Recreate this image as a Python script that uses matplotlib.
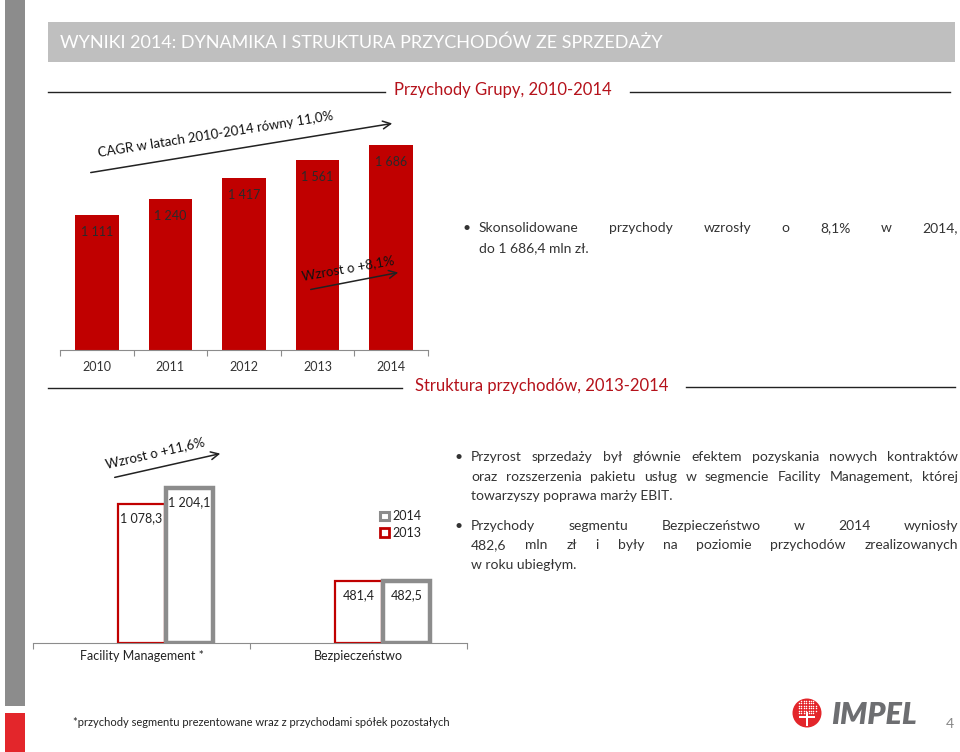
import matplotlib
matplotlib.use("Agg")
import numpy as np
import matplotlib.pyplot as plt
from matplotlib.patches import Rectangle, Circle, Patch

plt.rcParams["font.family"] = ["Lato", "DejaVu Sans"]

# data
years = ["2010", "2011", "2012", "2013", "2014"]
revenue = [1111, 1240, 1417, 1561, 1686]

segments = ["Facility Management *", "Bezpieczeństwo"]
seg_2013 = [1078.3, 481.4]
seg_2014 = [1204.1, 482.5]

bullets_top = [
    ("Skonsolidowane przychody wzrosły o 8,1% w 2014,", True),
    ("do 1 686,4 mln zł.", False),
]
bullets_bottom = [
    ("Przyrost sprzedaży był głównie efektem pozyskania nowych kontraktów", True),
    ("oraz rozszerzenia pakietu usług w segmencie Facility Management, której", True),
    ("towarzyszy poprawa marży EBIT.", False),
    ("Przychody segmentu Bezpieczeństwo w 2014 wyniosły", True),
    ("482,6 mln zł i były na poziomie przychodów zrealizowanych", True),
    ("w roku ubiegłym.", False),
]

RED = "#C00000"
DRED = "#B5121B"
GRAY = "#8C8C8C"
TXT = "#333333"

W, H = 960, 752
fig = plt.figure(figsize=(W / 100, H / 100), dpi=100)


def px_axes(x0, y0, x1, y1):
    return fig.add_axes([x0 / W, 1 - y1 / H, (x1 - x0) / W, (y1 - y0) / H])


def fmt_int(v):
    return f"{v:,}".replace(",", " ")


def fmt_dec(v):
    return f"{v:,.1f}".replace(",", " ").replace(".", ",")


def style_axis(ax, n):
    for s in ["top", "left", "right"]:
        ax.spines[s].set_visible(False)
    ax.spines["bottom"].set_color(GRAY)
    ax.set_yticks([])
    ax.set_xticks(np.arange(-0.5, n, 1))
    ax.set_xticklabels([])
    ax.tick_params(axis="x", which="major", length=4, color=GRAY)
    ax.patch.set_visible(False)
    ax.set_xlim(-0.5, n - 0.5)


# revenue chart 2010-2014
ax1 = px_axes(60, 100, 428, 350)
x = np.arange(len(years))
ax1.bar(x, revenue, width=0.59, color=RED)
style_axis(ax1, len(years))
ax1.set_ylim(0, 2056)
ax1.set_xticks(x, minor=True)
ax1.set_xticklabels(years, minor=True, fontsize=9, color=TXT)
ax1.tick_params(axis="x", which="minor", length=0, pad=8)
for i, v in enumerate(revenue):
    ax1.annotate(fmt_int(v), (i, v), xytext=(0, -8), textcoords="offset points",
                 ha="center", va="top", fontsize=9, color="#2a2a2a")

# segment chart 2013-2014
ax2 = px_axes(33, 440, 467, 643)
xs = np.arange(len(segments))
bw = 0.215
ax2.bar(xs, seg_2013, width=bw, facecolor="white", edgecolor=RED, lw=1.6)
ax2.bar(xs + 0.222, seg_2014, width=bw, facecolor="white", edgecolor=GRAY, lw=3.2)
style_axis(ax2, len(segments))
ax2.set_ylim(0, 1576)
ax2.set_xticks(xs, minor=True)
ax2.set_xticklabels(segments, minor=True, fontsize=9, color="#222222")
ax2.tick_params(axis="x", which="minor", length=0, pad=5)
for i in range(len(segments)):
    ax2.annotate(fmt_dec(seg_2013[i]), (xs[i], seg_2013[i]), xytext=(0, -6),
                 textcoords="offset points", ha="center", va="top", fontsize=9, color="#222222")
    ax2.annotate(fmt_dec(seg_2014[i]), (xs[i] + 0.222, seg_2014[i]), xytext=(0, -6),
                 textcoords="offset points", ha="center", va="top", fontsize=9, color="#222222")

handles = [Patch(facecolor="white", edgecolor=GRAY, lw=2.2),
           Patch(facecolor="white", edgecolor=RED, lw=2.0)]
fig.legend(handles, ["2014", "2013"], loc="upper left",
           bbox_to_anchor=(374 / W, 1 - 504 / H), frameon=False, fontsize=9,
           handlelength=0.7, handleheight=0.7, handletextpad=0.3, labelspacing=0.35,
           borderpad=0, labelcolor="#222222")

# overlay in pixel coordinates for slide decoration
lay = fig.add_axes([0, 0, 1, 1])
lay.set_xlim(0, W)
lay.set_ylim(H, 0)
lay.axis("off")
lay.set_zorder(10)

lay.add_patch(Rectangle((5, 0), 20, 706, color="#8C8C8C", lw=0))
lay.add_patch(Rectangle((5, 713), 20, 39, color="#E3262B", lw=0))
lay.add_patch(Rectangle((48, 22), 907, 40, color="#BFBFBF", lw=0))
lay.text(60, 43, "WYNIKI 2014: DYNAMIKA I STRUKTURA PRZYCHODÓW ZE SPRZEDAŻY",
         color="white", fontsize=13, va="center", ha="left")

# section headers
lay.text(503, 90, "Przychody Grupy, 2010-2014", color=DRED, fontsize=12, ha="center", va="center")
lay.plot([48, 385], [92, 92], color="#222222", lw=1)
lay.plot([630, 950], [92, 92], color="#222222", lw=1)
lay.text(542, 386, "Struktura przychodów, 2013-2014", color=DRED, fontsize=12, ha="center", va="center")
lay.plot([48, 402], [388, 388], color="#222222", lw=1)
lay.plot([686, 955], [387, 387], color="#222222", lw=1)

# arrows with growth notes
arr = dict(arrowstyle="->", color="#222222", lw=1.1, mutation_scale=14)
lay.annotate("", xy=(395, 123), xytext=(88, 173), arrowprops=arr)
lay.text(216, 134, "CAGR w latach 2010-2014 równy 11,0%", rotation=9, rotation_mode="anchor",
         ha="center", va="center", fontsize=9.5, color="#111111")
lay.annotate("", xy=(401, 272), xytext=(308, 290), arrowprops=arr)
lay.text(348, 268, "Wzrost o +8,1%", rotation=10, rotation_mode="anchor",
         ha="center", va="center", fontsize=9.5, color="#111111")
lay.annotate("", xy=(223, 453), xytext=(112, 478), arrowprops=arr)
lay.text(155, 453, "Wzrost o +11,6%", rotation=13, rotation_mode="anchor",
         ha="center", va="center", fontsize=9.5, color="#111111")

renderer = fig.canvas.get_renderer()


def text_block(lines, bullet_x, x0, x1, y0, starts, step=19.7):
    y = y0
    for k, (line, just) in enumerate(lines):
        if k in starts:
            if k != 0:
                y += 9.5
            lay.text(bullet_x, y, "•", fontsize=10, color=TXT, va="baseline")
        if just:
            words = line.split()
            arts = [lay.text(x0, y, w, fontsize=10, color=TXT, va="baseline") for w in words]
            widths = [a.get_window_extent(renderer).width for a in arts]
            gap = (x1 - x0 - sum(widths)) / (len(words) - 1)
            pos = x0
            for a, w in zip(arts, widths):
                a.set_x(pos)
                pos += w + gap
        else:
            lay.text(x0, y, line, fontsize=10, color=TXT, va="baseline")
        y += step


text_block(bullets_top, 463, 479, 958, 232, starts={0})
text_block(bullets_bottom, 455, 471, 958, 461, starts={0, 3})

# footer
lay.text(73, 722, "*przychody segmentu prezentowane wraz z przychodami spółek pozostałych",
         fontsize=8, color="#222222", va="center")
lay.text(946, 724, "4", fontsize=10, color="#888888", va="center")

# logo
lay.add_patch(Circle((807, 713), 14.5, color="#E3262B", lw=0))
gx, gy = np.meshgrid(np.arange(799, 816, 2.4), np.arange(701, 714, 2.4))
inside = (gx - 807) ** 2 + (gy - 708) ** 2 <= 9.5 ** 2
lay.scatter(gx[inside], gy[inside], s=1.2, color="white", lw=0)
lay.add_patch(Rectangle((805.8, 712), 2.4, 14, color="white", lw=0))
lay.add_patch(Rectangle((799, 716), 16, 1.8, color="white", lw=0))
lay.text(831, 715, "IMPEL", fontsize=22, fontweight="heavy", fontstyle="italic",
         color="#6D6E71", va="center", ha="left")

fig.savefig("out.png", dpi=100)
